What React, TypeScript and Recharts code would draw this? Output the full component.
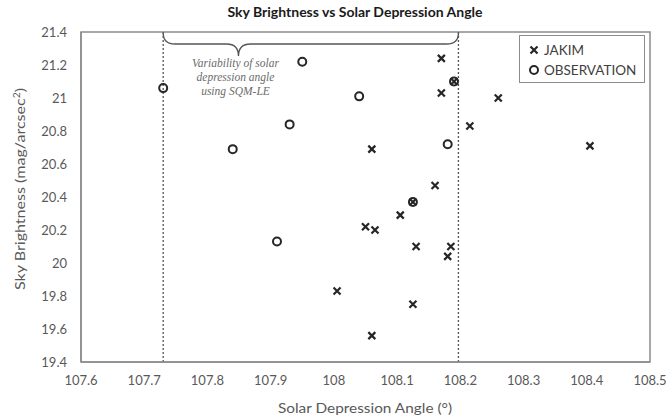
import React from "react";
import {
  ScatterChart,
  Scatter,
  XAxis,
  YAxis,
  ReferenceLine,
  ReferenceArea,
} from "recharts";

// solar depression angle (deg) vs sky brightness (mag/arcsec^2)
const jakimAngle = [
  108.17, 108.19, 108.17, 108.26, 108.215, 108.405, 108.06, 108.16, 108.125,
  108.105, 108.05, 108.065, 108.13, 108.185, 108.18, 108.005, 108.125, 108.06,
];
const jakimBrightness = [
  21.24, 21.1, 21.03, 21.0, 20.83, 20.71, 20.69, 20.47, 20.37, 20.29, 20.22,
  20.2, 20.1, 20.1, 20.04, 19.83, 19.75, 19.56,
];

const obsAngle = [107.73, 107.95, 108.04, 107.93, 107.84, 108.18, 108.19, 108.125, 107.91];
const obsBrightness = [21.06, 21.22, 21.01, 20.84, 20.69, 20.72, 21.1, 20.37, 20.13];

const xTicks = [107.6, 107.7, 107.8, 107.9, 108, 108.1, 108.2, 108.3, 108.4, 108.5];
const yTicks = [19.4, 19.6, 19.8, 20, 20.2, 20.4, 20.6, 20.8, 21, 21.2, 21.4];

// range covered by the SQM-LE measurements
const sqmRange = [107.73, 108.197];

const jakim = jakimAngle.map((x, i) => ({ x, y: jakimBrightness[i] }));
const observation = obsAngle.map((x, i) => ({ x, y: obsBrightness[i] }));

const FONT = "Lato, 'Open Sans', sans-serif";
const INK = "#262626";

const Cross = (props: any) => {
  const { cx, cy } = props;
  const s = 3.5;
  return (
    <path
      d={`M${cx - s},${cy - s}L${cx + s},${cy + s}M${cx - s},${cy + s}L${cx + s},${cy - s}`}
      stroke={INK}
      strokeWidth={2.2}
      fill="none"
    />
  );
};

const Ring = (props: any) => {
  const { cx, cy } = props;
  return <circle cx={cx} cy={cy} r={4} stroke={INK} strokeWidth={2} fill="none" />;
};

// curly brace over the SQM-LE range, with its note underneath
const Brace = (props: any) => {
  const { x1, x2, y1 } = props;
  if (x1 == null || x2 == null) return null;
  const top = y1 + 1;
  const mid = top + 11;
  const tipX = x1 + (x2 - x1) * 0.255;
  const tipY = top + 23;
  const r = 12;
  const d =
    `M${x1},${top} Q${x1},${mid} ${x1 + r},${mid} L${tipX - r},${mid} Q${tipX},${mid} ${tipX},${tipY}` +
    ` Q${tipX},${mid} ${tipX + r},${mid} L${x2 - r},${mid} Q${x2},${mid} ${x2},${top}`;
  const lines = ["Variability of solar", "depression angle", "using SQM-LE"];
  return (
    <g>
      <path d={d} stroke="#555" strokeWidth={1.3} fill="none" />
      {lines.map((t, i) => (
        <text
          key={t}
          x={tipX - 3}
          y={tipY + 11 + i * 14}
          textAnchor="middle"
          fontFamily="'Liberation Serif', serif"
          fontStyle="italic"
          fontSize={11.5}
          fill="#6b6b6b"
        >
          {t}
        </text>
      ))}
    </g>
  );
};

const fmt = (v: number) => String(Math.round(v * 10) / 10);

export default function App() {
  return (
    <div
      style={{
        position: "absolute",
        left: 0,
        top: 0,
        width: 667,
        height: 419,
        background: "#fff",
        fontFamily: FONT,
      }}
    >
      <ScatterChart
        width={667}
        height={419}
        margin={{ top: 32, right: 17, bottom: 0, left: 0 }}
      >
        <XAxis
          type="number"
          dataKey="x"
          domain={[107.6, 108.5]}
          ticks={xTicks}
          tickFormatter={fmt}
          height={57}
          axisLine={{ stroke: "#8c8c8c", strokeWidth: 1.5 }}
          tickLine={false}
          tickSize={6}
          tickMargin={8}
          tick={{ fill: "#595959", fontSize: 13, fontFamily: FONT }}
          interval={0}
          allowDataOverflow
        />
        <YAxis
          type="number"
          dataKey="y"
          domain={[19.4, 21.4]}
          ticks={yTicks}
          tickFormatter={fmt}
          width={81}
          axisLine={{ stroke: "#8c8c8c", strokeWidth: 1.5 }}
          tickLine={false}
          tickSize={6}
          tickMargin={8}
          tick={{ fill: "#595959", fontSize: 13, fontFamily: FONT }}
          interval={0}
          allowDataOverflow
        />
        <ReferenceArea
          x1={107.6}
          x2={108.5}
          y1={19.4}
          y2={21.4}
          fill="none"
          stroke="#8c8c8c"
          strokeWidth={1.5}
          ifOverflow="visible"
        />
        {sqmRange.map((v) => (
          <ReferenceLine
            key={v}
            x={v}
            stroke="#555"
            strokeWidth={1.3}
            strokeDasharray="2 2"
          />
        ))}
        <ReferenceLine
          segment={[
            { x: sqmRange[0], y: 21.4 },
            { x: sqmRange[1], y: 21.4 },
          ]}
          shape={Brace}
          ifOverflow="visible"
        />
        <Scatter
          name="JAKIM"
          data={jakim}
          shape={Cross}
          isAnimationActive={false}
        />
        <Scatter
          name="OBSERVATION"
          data={observation}
          shape={Ring}
          isAnimationActive={false}
        />
      </ScatterChart>

      <svg
        width={667}
        height={419}
        style={{ position: "absolute", left: 0, top: 0, pointerEvents: "none" }}
      >
        <text
          x={355}
          y={17}
          textAnchor="middle"
          fontFamily={FONT}
          fontWeight={700}
          fontSize={14}
          fill="#1a1a1a"
          textLength={255}
          lengthAdjust="spacingAndGlyphs"
        >
          Sky Brightness vs Solar Depression Angle
        </text>
        <text
          x={365}
          y={413}
          textAnchor="middle"
          fontFamily={FONT}
          fontSize={14}
          fill="#595959"
          textLength={174}
          lengthAdjust="spacingAndGlyphs"
        >
          Solar Depression Angle (°)
        </text>
        <text
          transform="translate(25,189) rotate(-90)"
          textAnchor="middle"
          fontFamily={FONT}
          fontSize={14}
          fill="#595959"
          textLength={202}
          lengthAdjust="spacingAndGlyphs"
        >
          Sky Brightness (mag/arcsec
          <tspan fontSize={9} dy={-5}>
            2
          </tspan>
          <tspan dy={5}>)</tspan>
        </text>
      </svg>

      <div
        style={{
          position: "absolute",
          left: 519,
          top: 35,
          width: 126,
          height: 48,
          border: "1.5px solid #8c8c8c",
          boxSizing: "border-box",
          fontSize: 13.5,
          color: "#404040",
          paddingLeft: 9,
          paddingTop: 4,
          lineHeight: "20px",
        }}
      >
        {[
          { label: "JAKIM", Shape: Cross },
          { label: "OBSERVATION", Shape: Ring },
        ].map(({ label, Shape }) => (
          <div key={label} style={{ display: "flex", alignItems: "center" }}>
            <svg width={12} height={12} style={{ marginRight: 3 }}>
              <Shape cx={5} cy={6} />
            </svg>
            {label}
          </div>
        ))}
      </div>
    </div>
  );
}
